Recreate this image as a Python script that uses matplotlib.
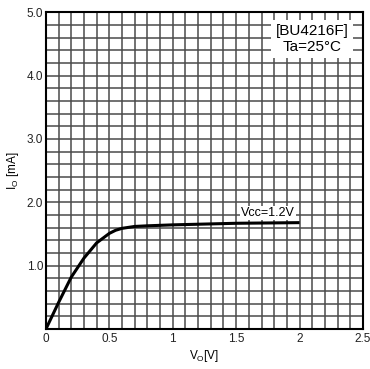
import numpy as np
import matplotlib
matplotlib.use('Agg')
import matplotlib.pyplot as plt
import matplotlib.ticker as tkr

plt.rcParams['font.family'] = ['Liberation Sans', 'DejaVu Sans']

# curve
vo = [0, 0.1, 0.2, 0.3, 0.4, 0.5, 0.55, 0.6, 0.7, 0.8, 1.0, 1.5, 2.0]
io = [0, 0.42, 0.82, 1.12, 1.36, 1.51, 1.56, 1.59, 1.62, 1.63, 1.645, 1.67, 1.68]

x_ticks = [0, 0.5, 1, 1.5, 2, 2.5]
x_labels = ['0', '0.5', '1', '1.5', '2', '2.5']
y_ticks = [1, 2, 3, 4, 5]
y_labels = ['1.0', '2.0', '3.0', '4.0', '5.0']

fig = plt.figure(figsize=(3.70, 3.69), dpi=100)
ax = fig.add_axes([0.124, 0.108, 0.857, 0.859])

ax.set_xlim(0, 2.5)
ax.set_ylim(0, 5)

# grid
ax.xaxis.set_minor_locator(tkr.MultipleLocator(0.1))
ax.yaxis.set_minor_locator(tkr.MultipleLocator(0.2))
ax.grid(which='both', color='#4a4a4a', linewidth=1.1)
ax.set_axisbelow(True)

ax.plot(vo, io, color='black', linewidth=2.2, solid_capstyle='butt', zorder=3)

ax.set_xticks(x_ticks)
ax.set_xticklabels(x_labels)
ax.set_yticks(y_ticks)
ax.set_yticklabels(y_labels)
ax.tick_params(which='both', length=0, labelsize=8.5, pad=3, colors='#222222')
ax.tick_params(axis='y', pad=2)

for spine in ax.spines.values():
    spine.set_linewidth(1.5)
    spine.set_color('black')

ax.set_xlabel(r'V$_\mathregular{O}$[V]', fontsize=8.5, labelpad=2)
ax.set_ylabel(r'I$_\mathregular{O}$ [mA]', fontsize=8.5, labelpad=4)

ax.text(1.75, 1.83, 'Vcc=1.2V', fontsize=9, ha='center', va='center', zorder=4,
        bbox=dict(boxstyle='square,pad=0.1', fc='white', ec='none'))

ax.text(0.84, 0.962, '[BU4216F]\nTa=25°C', transform=ax.transAxes, fontsize=11,
        ha='center', va='top', linespacing=1.15, multialignment='center', zorder=4,
        bbox=dict(boxstyle='square,pad=0.3', fc='white', ec='none'))

plt.savefig('out.png', dpi=100)
